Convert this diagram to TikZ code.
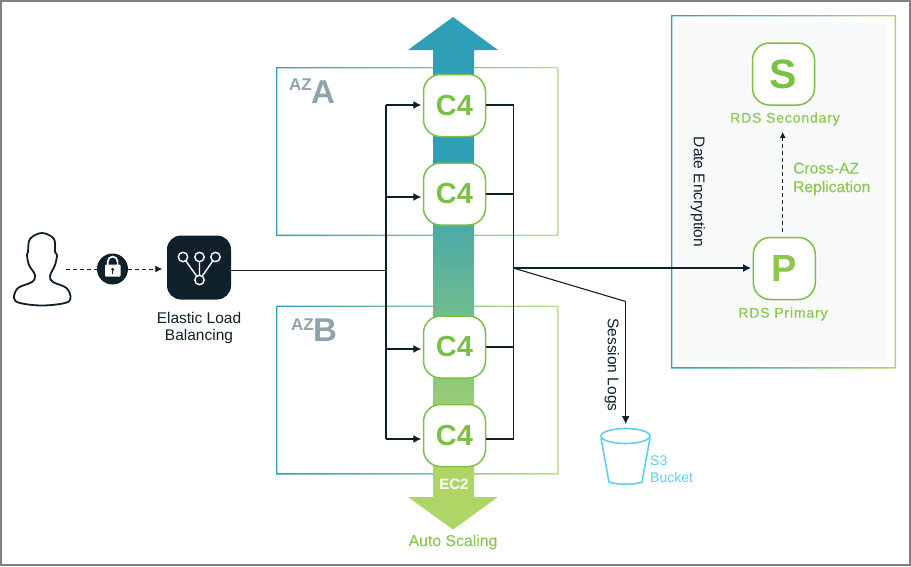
\documentclass[tikz,border=0pt]{standalone}
\usepackage{fontspec}
\setmainfont{Liberation Sans}
\newfontfamily\widefont[LetterSpace=6,FakeBold=0.25]{Liberation Sans}
\newfontfamily\midfont[FakeBold=0.25]{Liberation Sans}
\usetikzlibrary{arrows.meta, calc}
\definecolor{inkdark}{HTML}{0F202B}
\definecolor{leafgreen}{HTML}{7AC143}
\definecolor{softgreen}{HTML}{8CC850}
\definecolor{barteal}{HTML}{2F9FB8}
\definecolor{bargreen}{HTML}{AED667}
\definecolor{framegreen}{HTML}{BFDD85}
\definecolor{azgrey}{HTML}{8FA3AB}
\definecolor{bucketblue}{HTML}{5CD0F0}
\definecolor{panelgrey}{HTML}{F8FAFA}
\newcommand{\pxfont}[1]{\fontsize{#1}{#1}\selectfont}
\pgfdeclareverticalshading{barshade}{100bp}{color(0bp)=(bargreen); color(32.7bp)=(bargreen); color(60.5bp)=(barteal); color(100bp)=(barteal)}
\tikzset{
  flow/.style = {draw=inkdark, line width=1.1pt},
  flowarrow/.style = {flow, -{Latex[length=8pt,width=8pt]}, shorten >=1.5pt},
  dasharrow/.style = {draw=inkdark, line width=1pt, dashed, dash pattern=on 4pt off 3pt, -{Latex[length=7pt,width=7pt]}},
  serverbox/.style = {draw=leafgreen, line width=1.5pt, fill=white, rounded corners=17pt, minimum size=62pt, inner sep=0pt, text=leafgreen, font=\pxfont{29}\bfseries},
  greenlabel/.style = {text=softgreen, inner sep=0pt, font=\widefont\pxfont{14}},
  darklabel/.style = {text=inkdark, inner sep=0pt, font=\pxfont{15.5}},
  frameshade/.style = {left color=barteal, right color=#1, even odd rule},
}
\begin{document}
\begin{tikzpicture}[x=1pt, y=-1pt]
\useasboundingbox (0,0) rectangle (911,566);
\draw [line width=2pt, draw=black!50] (1,1) rectangle (910,565);
\shade [frameshade=framegreen] (276,67) rectangle (558.5,236) (277.3,68.3) rectangle (557.2,234.7);
\shade [frameshade=framegreen] (276,305.5) rectangle (558.5,474.5) (277.3,306.8) rectangle (557.2,473.2);
\shade [frameshade=bargreen] (671,15) rectangle (896,368.5) (672.3,16.3) rectangle (894.7,367.2);
\fill [panelgrey] (679,23) rectangle (887,361);
\shade [shading=barshade] (453,17) -- (498,50) -- (474,50) -- (474,497) -- (498,497) -- (453,529.5) -- (408,497) -- (433,497) -- (433,50) -- (408,50) -- cycle;
\node [inner sep=0pt, anchor=west, text=azgrey, font=\pxfont{17}\bfseries] (azlabela) at (289,85) {AZ};
\node [inner sep=0pt, anchor=west, text=azgrey, font=\pxfont{33}\bfseries] (zonea) at (311,92) {A};
\node [inner sep=0pt, anchor=west, text=azgrey, font=\pxfont{17}\bfseries] (azlabelb) at (291,325) {AZ};
\node [inner sep=0pt, anchor=west, text=azgrey, font=\pxfont{33}\bfseries] (zoneb) at (313,330) {B};
\node [serverbox] (c4a) at (454.5,105.5) {C4};
\node [serverbox] (c4b) at (454.5,194) {C4};
\node [serverbox] (c4c) at (454.5,347) {C4};
\node [serverbox] (c4d) at (454.5,435.5) {C4};
\node [inner sep=0pt, text=white, font=\pxfont{15}\bfseries] (ectwo) at (454,484) {EC2};
\node [greenlabel, font=\midfont\pxfont{15.8}] (autoscaling) at (453,542) {Auto Scaling};
\fill [inkdark, rounded corners=14pt] (167,235.5) rectangle (231,299.5);
\node [minimum size=64pt, inner sep=0pt] (elb) at (199,267.5) {};
\coordinate (elbone) at (183,257);
\coordinate (elbtwo) at (199.5,257);
\coordinate (elbthree) at (215.5,257);
\coordinate (elbfour) at (199.5,280);
\draw [white, line width=1.4pt] (elbone) -- (elbfour) (elbtwo) -- (elbfour) (elbthree) -- (elbfour);
\foreach \p in {elbone, elbtwo, elbthree, elbfour}
  \draw [white, line width=1.4pt, fill=inkdark] (\p) circle (4.7);
\node [darklabel, align=center, text height=10pt] (elblabel) at (199,337.5) {Elastic Load\\[2pt]Balancing};
\draw [inkdark, line width=1.8pt, line join=round] plot [smooth cycle, tension=0.6] coordinates {(42,233) (30,239) (28,252) (27,255) (29,265) (35,275) (32,282) (18,288) (14,298) (20,303) (42,305.5) (65,303) (70.5,298) (66.5,288) (53,282) (50,276) (55,265) (57,255) (55,252) (54,239)};
\coordinate (user) at (66,269);
\node [circle, fill=inkdark, minimum size=31pt, inner sep=0pt] (lock) at (112.5,269) {};
\fill [white, rounded corners=1pt] (105,264.5) rectangle (120.5,276.5);
\draw [white, line width=1.7pt] (107.8,265) -- (107.8,261.5) arc [start angle=180, end angle=360, radius=4.9] -- (117.6,265);
\fill [inkdark] (112.7,269.5) circle (1.6);
\fill [inkdark] (112,270) rectangle (113.4,273.5);
\draw [dasharrow, -] (user) -- (lock);
\draw [dasharrow, shorten >=4.5pt] (lock) -- (elb.west |- lock);
\coordinate (trunk) at (386,270.5);
\coordinate (leftone) at (386,105);
\coordinate (lefttwo) at (386,197);
\coordinate (leftthree) at (386,349);
\coordinate (leftfour) at (386,439);
\coordinate (rightone) at (513.3,105);
\coordinate (righttwo) at (513.3,194);
\coordinate (rightthree) at (513.3,347);
\coordinate (rightfour) at (513.3,439);
\coordinate (tap) at (513.3,268);
\coordinate (bend) at (625.7,301.5);
\draw [flow] (elb.east |- trunk) -- (trunk);
\draw [flow] (leftone) -- (leftfour);
\draw [flowarrow] (leftone) -- (leftone -| c4a.west);
\draw [flowarrow] (lefttwo) -- (lefttwo -| c4b.west);
\draw [flowarrow] (leftthree) -- (leftthree -| c4c.west);
\draw [flowarrow] (leftfour) -- (leftfour -| c4d.west);
\draw [flow] (c4a.east |- rightone) -- (rightone) -- (rightfour) -- (c4d.east |- rightfour);
\draw [flow] (c4b.east |- righttwo) -- (righttwo);
\draw [flow] (c4c.east |- rightthree) -- (rightthree);
\node [serverbox, font=\pxfont{41}\bfseries] (rdss) at (783.5,74) {S};
\node [serverbox, text=softgreen, font=\pxfont{38}\bfseries] (rdsp) at (784.3,268.5) {P};
\node [greenlabel] (rdsslabel) at (785,119) {RDS Secondary};
\node [greenlabel] (rdsplabel) at (783,314) {RDS Primary};
\node [greenlabel, anchor=west, align=left, font=\midfont\pxfont{15.6}] (crossaz) at (793,179) {Cross-AZ\\[3pt]Replication};
\node [darklabel, rotate=-90] (encryption) at (698,192) {Date Encryption};
\node [darklabel, rotate=-90] (sessionlogs) at (612,365) {Session Logs};
\draw [flowarrow] (tap) -- (rdsp.west |- tap);
\draw [flow] (tap) -- (bend);
\draw [flowarrow, shorten >=0pt] (bend) -- (625.7,424) coordinate (bucketin);
\coordinate (rdstop) at (782.7,232);
\draw [dasharrow, line width=.8pt, -{Latex[length=6pt,width=6pt]}] (rdstop) -- (rdstop |- 0,132);
\coordinate (buckettop) at (625.5,436);
\draw [bucketblue, line width=1.6pt] (buckettop) ellipse [x radius=24.5, y radius=7.5];
\draw [bucketblue, line width=1.6pt] (601,438) -- (609,482) .. controls (617,485) and (634,485) .. (642,482) -- (650,438);
\node [text=bucketblue, inner sep=0pt, anchor=north west, align=left, font=\pxfont{14}] (bucket) at (650,455.5) {S3\\[3pt]Bucket};
\end{tikzpicture}
\end{document}
